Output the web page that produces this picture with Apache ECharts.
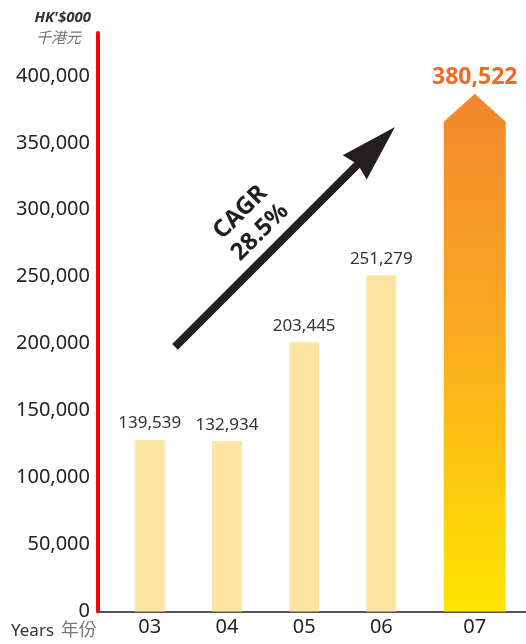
<!DOCTYPE html>
<html>
<head>
<meta charset="utf-8">
<script src="https://cdn.jsdelivr.net/npm/echarts@6/dist/echarts.min.js"></script>
<style>
  html, body { margin: 0; padding: 0; background: #fff; }
  #chart { width: 526px; height: 644px; }
</style>
</head>
<body>
<div id="chart"></div>
<script>
// Revenue by year, HK$'000. Bars for 03/04 are drawn shorter than their labels
// in the source artwork, so drawn heights and printed values are kept apart.
const years = ["03", "04", "05", "06", "07"];
const xPos = [0.67, 1.67, 2.67, 3.67, 4.88];
const barHeights = [128000, 127200, 201100, 251100, 386700];
const labelValues = [139539, 132934, 203445, 251279, 380522];
const yTicks = { min: 0, max: 432000, interval: 50000 };

// CAGR arrow, in data units (tail, arrow-head centre)
const cagrFrom = [0.998, 197600];
const cagrTo = [3.586, 346700];
const cagrText = "CAGR\n28.5%";

const FONT = "'Noto Sans', 'Noto Sans CJK TC', sans-serif";
const INK = "#231f20";
const PALE = "#fde4a0";
const ORANGE = "#f26a24";

const fmt = (n) => n.toLocaleString("en-US");

const chart = echarts.init(document.getElementById("chart"));

chart.setOption({
  animation: false,
  textStyle: { fontFamily: FONT },
  grid: { left: 98, right: 0, top: 33, bottom: 32.5 },
  xAxis: {
    type: "value",
    min: 0,
    max: 5.544,
    splitLine: { show: false },
    axisTick: { show: false },
    axisLine: { lineStyle: { color: "#555", width: 2 } },
    axisLabel: {
      customValues: xPos,
      formatter: (v) => years[xPos.indexOf(v)] ?? "",
      color: "#222",
      fontSize: 20,
      margin: 6,
      fontFamily: FONT,
    },
  },
  yAxis: {
    type: "value",
    ...yTicks,
    splitLine: { show: false },
    axisTick: { show: false },
    axisLine: { show: true, lineStyle: { color: "red", width: 4 } },
    axisLabel: {
      showMaxLabel: false,
      formatter: (v) => fmt(v),
      color: "#222",
      fontSize: 20,
      margin: 8,
      fontFamily: FONT,
    },
  },
  graphic: [
    {
      type: "text",
      right: 526 - 91,
      top: 10,
      style: {
        text: "HK'$000",
        fill: "#333",
        font: `italic bold 15px ${FONT}`,
        textAlign: "right",
      },
    },
    {
      type: "text",
      left: 36,
      top: 31,
      style: {
        text: "千港元",
        fill: "#777",
        font: `italic 15px ${FONT}`,
      },
    },
    {
      type: "text",
      left: 11,
      top: 622,
      style: {
        text: "{a|Years}  {b|年份}",
        rich: {
          a: { fill: "#333", fontSize: 17, fontFamily: FONT },
          b: { fill: "#777", fontSize: 18, fontFamily: FONT },
        },
      },
    },
  ],
  series: [
    {
      type: "bar",
      barWidth: 30,
      data: barHeights.slice(0, 4).map((h, i) => [xPos[i], h]),
      itemStyle: { color: PALE },
      label: {
        show: true,
        position: "top",
        distance: 8,
        formatter: (p) => fmt(labelValues[p.dataIndex]),
        color: "#333",
        fontSize: 17,
        fontFamily: FONT,
      },
      markLine: {
        silent: true,
        symbol: ["none", "path://M10,0 L20,20 L10,18.5 L0,20 Z"],
        symbolSize: [34, 57],
        lineStyle: { color: INK, width: 8, type: "solid", cap: "butt" },
        label: {
          show: true,
          position: "middle",
          distance: 7,
          formatter: cagrText,
          color: INK,
          fontSize: 24,
          fontWeight: "bold",
          lineHeight: 28,
          align: "center",
          fontFamily: FONT,
        },
        data: [[{ coord: cagrFrom }, { coord: cagrTo }]],
      },
    },
    {
      type: "pictorialBar",
      data: [[xPos[4], barHeights[4]]],
      symbol: "path://M0,5.4 L50,0 L100,5.4 L100,100 L0,100 Z",
      symbolSize: [62, "100%"],
      symbolPosition: "start",
      itemStyle: {
        color: new echarts.graphic.LinearGradient(0, 0, 0, 1, [
          { offset: 0, color: "#f3862f" },
          { offset: 0.5, color: "#fbae1e" },
          { offset: 1, color: "#ffe600" },
        ]),
      },
      label: {
        show: true,
        position: "top",
        distance: 5,
        formatter: () => fmt(labelValues[4]),
        color: ORANGE,
        fontSize: 23,
        fontWeight: "bold",
        fontFamily: FONT,
      },
    },
  ],
});
</script>
</body>
</html>
